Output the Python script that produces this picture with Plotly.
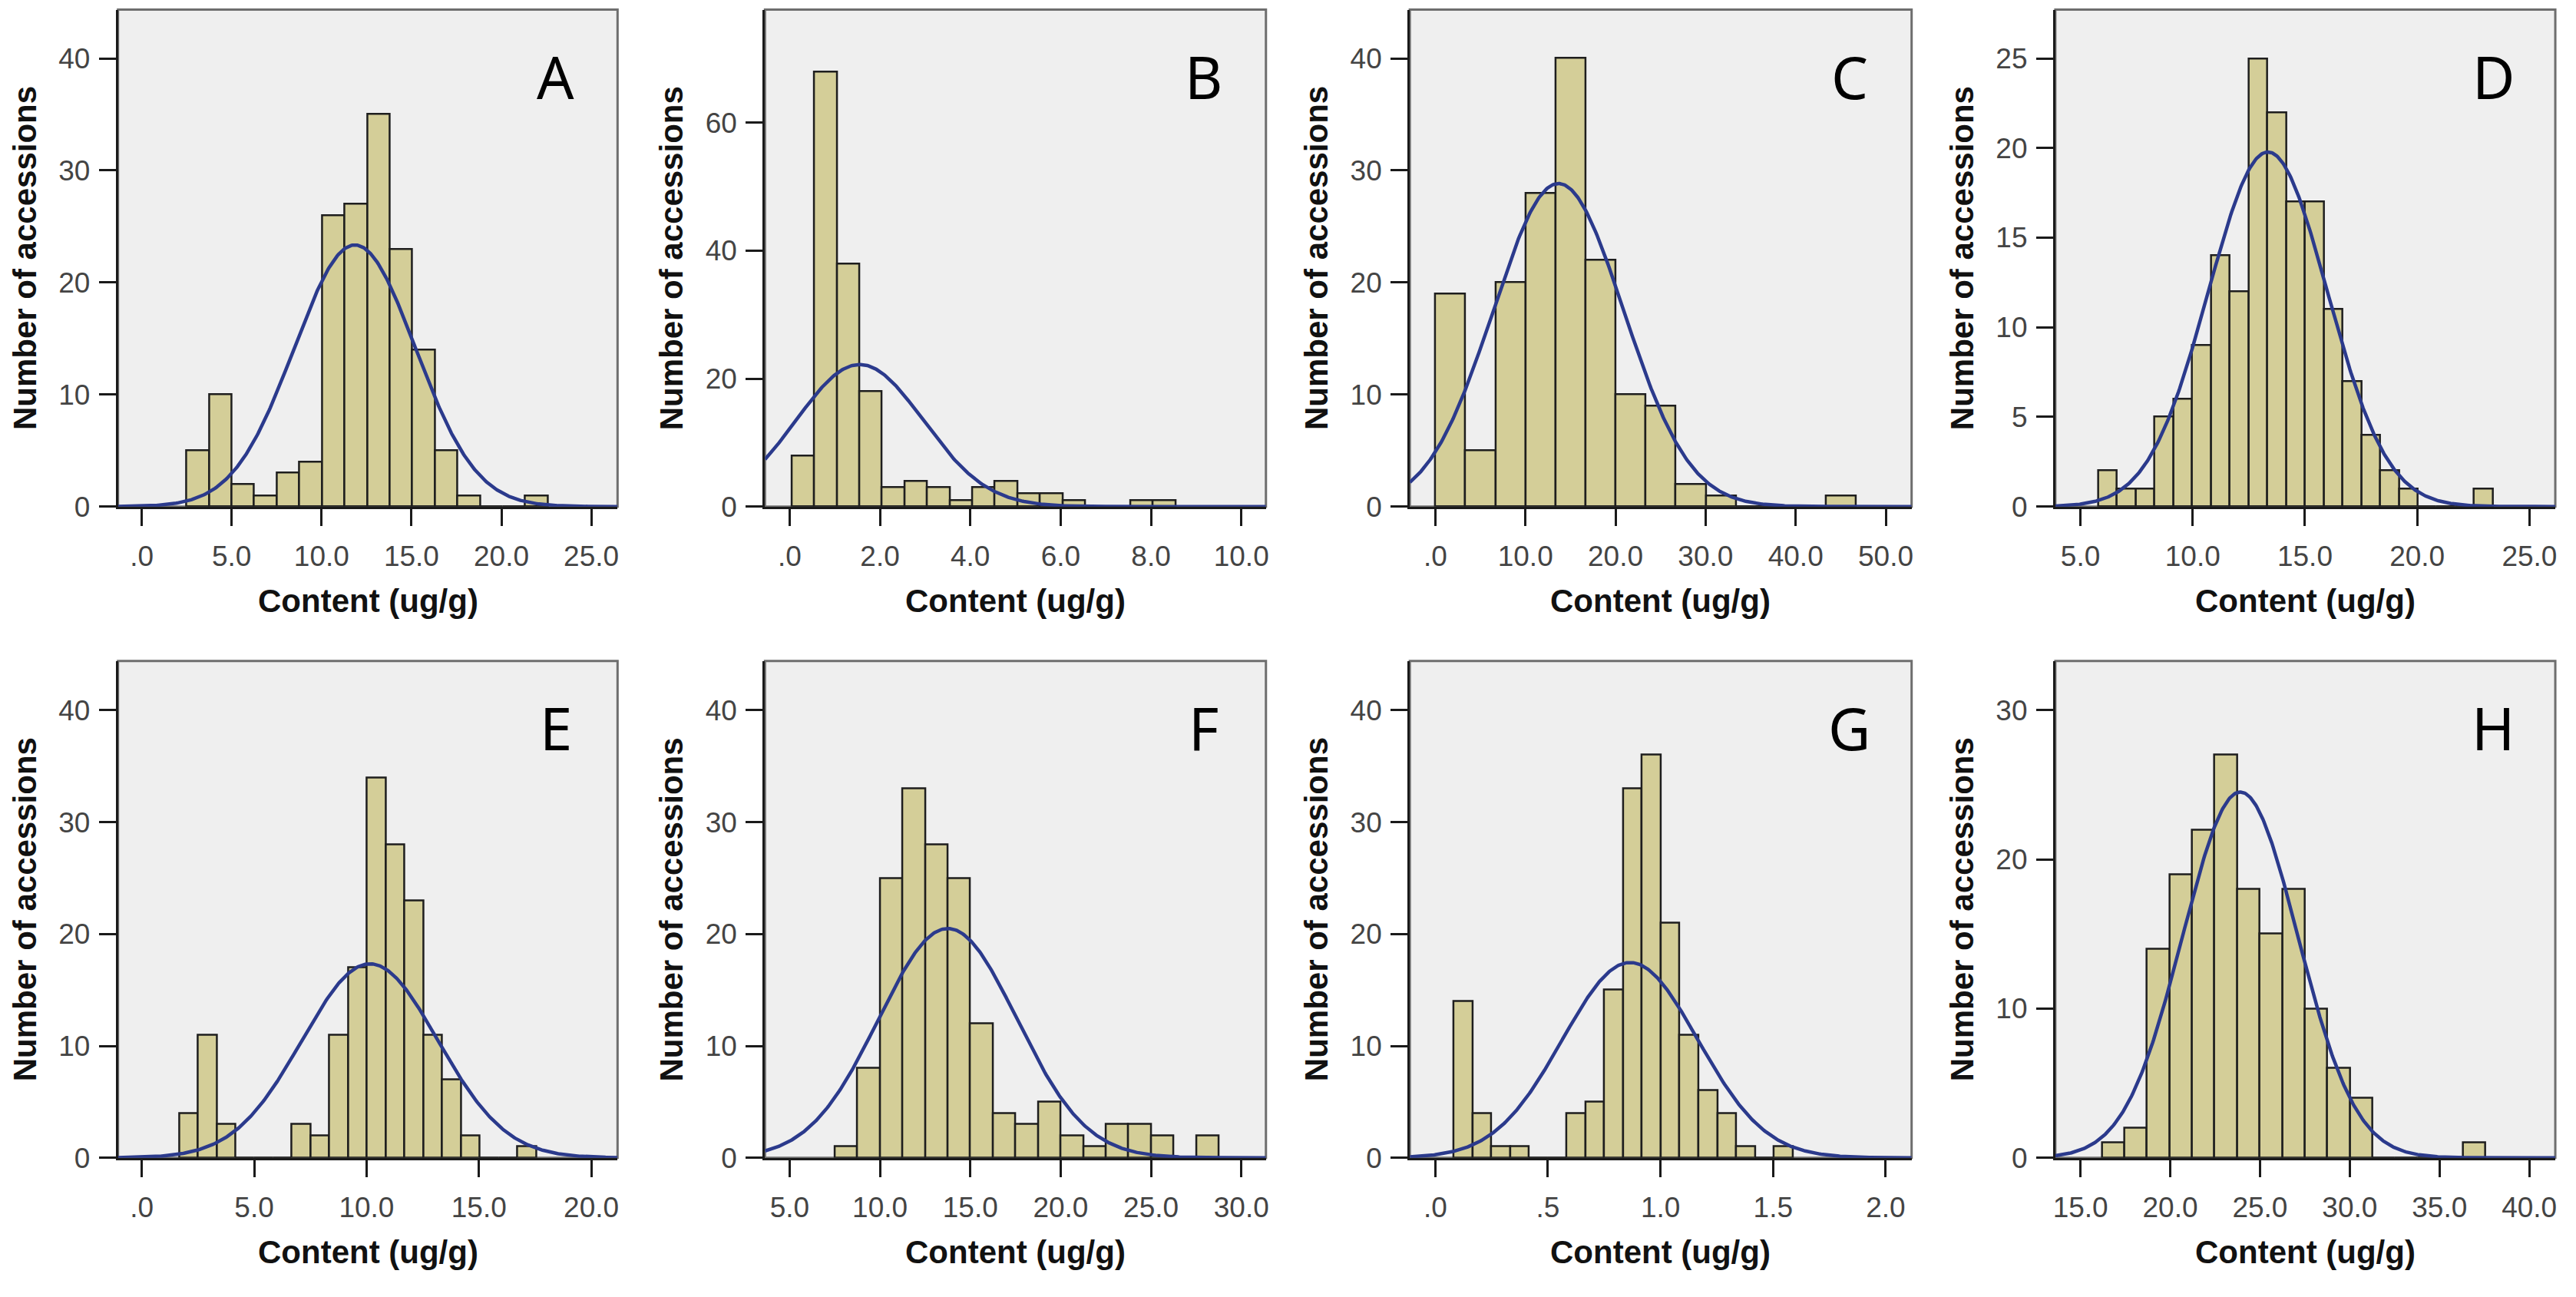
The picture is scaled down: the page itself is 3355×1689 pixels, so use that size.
import numpy as np
import plotly.graph_objects as go

# ---------------- data ----------------
panel_letters = ["A", "B", "C", "D", "E", "F", "G", "H"]

# histogram: first bin edge, bin width, counts
A_start, A_width = 2.49, 1.256
A_counts = [5, 10, 2, 1, 3, 4, 26, 27, 35, 23, 14, 5, 1, 0, 0, 1]
B_start, B_width = 0.045, 0.5
B_counts = [8, 68, 38, 18, 3, 4, 3, 1, 3, 4, 2, 2, 1, 0, 0, 1, 1]
C_start, C_width = 0.0, 3.337
C_counts = [19, 5, 20, 28, 40, 22, 10, 9, 2, 1, 0, 0, 0, 1]
D_start, D_width = 5.80, 0.8367
D_counts = [2, 1, 1, 5, 6, 9, 14, 12, 25, 22, 17, 17, 11, 7, 4, 2, 1, 0, 0, 0, 1]
E_start, E_width = 1.66, 0.836
E_counts = [4, 11, 3, 0, 0, 0, 3, 2, 11, 17, 34, 28, 23, 11, 7, 2, 0, 0, 1]
F_start, F_width = 7.5, 1.25
F_counts = [1, 8, 25, 33, 28, 25, 12, 4, 3, 5, 2, 1, 3, 3, 2, 0, 2]
G_start, G_width = 0.082, 0.0836
G_counts = [14, 4, 1, 1, 0, 0, 4, 5, 15, 33, 36, 21, 11, 6, 4, 1, 0, 1]
H_start, H_width = 16.19, 1.2565
H_counts = [1, 2, 14, 19, 22, 27, 18, 15, 18, 10, 6, 4, 0, 0, 0, 0, 1]

# fitted normal curve: mean, standard deviation
normal_mean = [11.85, 1.55, 13.67, 13.35, 10.15, 13.75, 0.865, 23.9]
normal_sd = [3.37, 1.41, 7.25, 2.65, 3.02, 3.82, 0.30, 3.21]

# axis ranges
x_ranges = [(-1.32, 26.46), (-0.545, 10.545), (-2.83, 52.87), (3.885, 26.15),
            (-1.06, 21.17), (3.636, 31.36), (-0.113, 2.115), (13.6, 41.45)]
y_ranges = [(0, 44.35), (0, 77.7), (0, 44.35), (0, 27.72),
            (0, 44.4), (0, 44.4), (0, 44.4), (0, 33.3)]

# tick values / labels
x_tickvals = [[0, 5, 10, 15, 20, 25], [0, 2, 4, 6, 8, 10], [0, 10, 20, 30, 40, 50],
              [5, 10, 15, 20, 25], [0, 5, 10, 15, 20], [5, 10, 15, 20, 25, 30],
              [0, 0.5, 1.0, 1.5, 2.0], [15, 20, 25, 30, 35, 40]]
x_ticktext = [[".0", "5.0", "10.0", "15.0", "20.0", "25.0"],
              [".0", "2.0", "4.0", "6.0", "8.0", "10.0"],
              [".0", "10.0", "20.0", "30.0", "40.0", "50.0"],
              ["5.0", "10.0", "15.0", "20.0", "25.0"],
              [".0", "5.0", "10.0", "15.0", "20.0"],
              ["5.0", "10.0", "15.0", "20.0", "25.0", "30.0"],
              [".0", ".5", "1.0", "1.5", "2.0"],
              ["15.0", "20.0", "25.0", "30.0", "35.0", "40.0"]]
y_tickvals = [[0, 10, 20, 30, 40], [0, 20, 40, 60], [0, 10, 20, 30, 40],
              [0, 5, 10, 15, 20, 25], [0, 10, 20, 30, 40], [0, 10, 20, 30, 40],
              [0, 10, 20, 30, 40], [0, 10, 20, 30]]

x_title = "Content (ug/g)"
y_title = "Number of accessions"

hist_start = [A_start, B_start, C_start, D_start, E_start, F_start, G_start, H_start]
hist_width = [A_width, B_width, C_width, D_width, E_width, F_width, G_width, H_width]
hist_counts = [A_counts, B_counts, C_counts, D_counts, E_counts, F_counts, G_counts, H_counts]

# ---------------- layout geometry ----------------
W, H = 3355, 1689
col_px = [(151, 803), (995.4, 1649.2), (1837, 2491.9), (2679.5, 3332)]
row_px = [(12.7, 668), (871.7, 1526.7)]

BAR_FILL = "#d4ce98"
BAR_LINE = "#1e1e1e"
CURVE = "#2b3a8c"
TICK_FONT = dict(family="Liberation Sans, Arial, sans-serif", size=37, color="#444444")

fig = go.Figure()
annotations = []
shapes = []
layout_axes = {}

for i in range(8):
    r, c = divmod(i, 4)
    n = i + 1
    xs = "" if n == 1 else str(n)
    xref, yref = f"x{xs}", f"y{xs}"

    start, bw, counts = hist_start[i], hist_width[i], hist_counts[i]
    centers = [start + bw * (k + 0.5) for k in range(len(counts))]
    fig.add_trace(go.Bar(
        x=centers, y=counts, width=[bw] * len(counts),
        marker=dict(color=BAR_FILL, line=dict(color=BAR_LINE, width=2.5)),
        xaxis=xref, yaxis=yref, showlegend=False, hoverinfo="x+y"))

    N = sum(counts)
    x0, x1 = x_ranges[i]
    cx = np.linspace(x0, x1, 500)
    mu, sd = normal_mean[i], normal_sd[i]
    cy = N * bw / (sd * np.sqrt(2 * np.pi)) * np.exp(-0.5 * ((cx - mu) / sd) ** 2)
    fig.add_trace(go.Scatter(
        x=cx, y=cy, mode="lines", line=dict(color=CURVE, width=4.5),
        xaxis=xref, yaxis=yref, showlegend=False, hoverinfo="skip"))

    xl, xr = col_px[c]
    yt, yb = row_px[r]
    xdom = [xl / W, xr / W]
    ydom = [1 - yb / H, 1 - yt / H]

    layout_axes[f"xaxis{xs}"] = dict(
        domain=xdom, anchor=yref, range=list(x_ranges[i]),
        tickvals=x_tickvals[i], ticktext=x_ticktext[i],
        showgrid=False, zeroline=False, showline=True, linecolor="#1a1a1a",
        linewidth=3, ticks="outside", ticklen=22, tickwidth=3, tickcolor="#1a1a1a",
        tickfont=TICK_FONT, ticklabelstandoff=8)
    layout_axes[f"yaxis{xs}"] = dict(
        domain=ydom, anchor=xref, range=list(y_ranges[i]),
        tickvals=y_tickvals[i],
        showgrid=False, zeroline=False, showline=True, linecolor="#1a1a1a",
        linewidth=3, ticks="outside", ticklen=22, tickwidth=3, tickcolor="#1a1a1a",
        tickfont=TICK_FONT, ticklabelstandoff=4)

    # grey frame on the top/right
    shapes.append(dict(type="rect", xref=f"{xref} domain", yref=f"{yref} domain",
                       x0=0, x1=1, y0=0, y1=1, layer="below",
                       line=dict(color="#6e6e6e", width=3)))

    # axis titles
    annotations.append(dict(
        text=f"<b>{x_title}</b>", xref=f"{xref} domain", yref=f"{yref} domain",
        x=0.5, y=-124 / 655, xanchor="center", yanchor="middle", showarrow=False,
        font=dict(family="Liberation Sans, Arial, sans-serif", size=42, color="#111")))
    annotations.append(dict(
        text=f"<b>{y_title}</b>", xref=f"{xref} domain", yref=f"{yref} domain",
        x=-122 / 652, y=0.5, xanchor="center", yanchor="middle", showarrow=False,
        textangle=-90,
        font=dict(family="Liberation Sans, Arial, sans-serif", size=42, color="#111")))
    # panel letter
    annotations.append(dict(
        text=panel_letters[i], xref=f"{xref} domain", yref=f"{yref} domain",
        x=0.876, y=0.866, xanchor="center", yanchor="middle", showarrow=False,
        font=dict(family="Noto Sans, Open Sans, sans-serif", size=76, color="#000")))

fig.update_layout(
    width=W, height=H, margin=dict(l=0, r=0, t=0, b=0),
    paper_bgcolor="white", plot_bgcolor="#efefef",
    bargap=0, barmode="overlay",
    annotations=annotations, shapes=shapes, **layout_axes)

fig.write_html("out.html")
